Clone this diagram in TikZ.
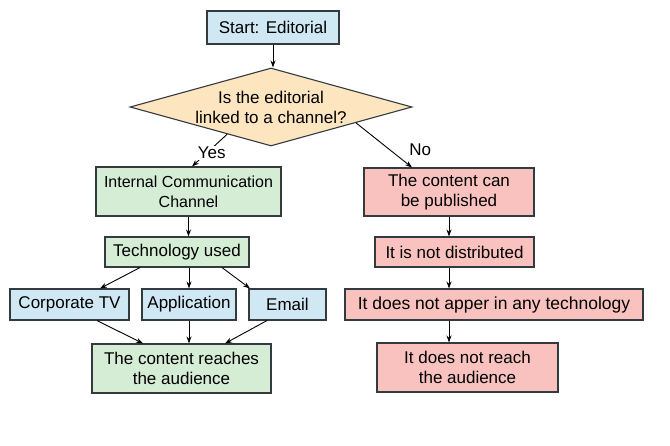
\documentclass[tikz,border=0pt]{standalone}
\usepackage{fontspec}
\setmainfont{Liberation Sans}
\usetikzlibrary{shapes.geometric,arrows.meta,calc}

\definecolor{boxblue}{HTML}{D0E7F4}
\definecolor{boxgreen}{HTML}{D5EDD5}
\definecolor{boxpink}{HTML}{F9C2BE}
\definecolor{boxsand}{HTML}{FDE5C0}
\definecolor{boxline}{HTML}{333B40}

\tikzset{
    box/.style={draw=boxline, line width=1.1pt, align=center, inner sep=0pt,
        font=\fontsize{17}{20}\selectfont},
    bluebox/.style={box, fill=boxblue},
    greenbox/.style={box, fill=boxgreen},
    pinkbox/.style={box, fill=boxpink},
    decision/.style={box, shape=diamond, fill=boxsand},
    arr/.style={-{Stealth[length=7pt,width=5pt]}, line width=0.9pt, draw=black}
}

\begin{document}
\begin{tikzpicture}[x=1pt,y=-1pt]

    \useasboundingbox[fill=white] (0,0) rectangle (670,446);

    % Inizio e domanda
    \node[bluebox, minimum width=132pt, minimum height=33pt] (start) at (273,27.5) {Start: Editorial};
    \node[decision, minimum width=282pt, minimum height=78pt,
        label={[align=center, font=\fontsize{17}{20}\selectfont]center:Is the editorial\\linked to a channel?}]
        (dia) at (271,107) {};

    % Ramo Yes
    \node[greenbox, minimum width=185pt, minimum height=49pt, font=\fontsize{16}{20}\selectfont] (icc) at (188.5,191.5) {Internal Communication\\Channel};
    \node[greenbox, minimum width=144pt, minimum height=30pt] (tech) at (177,252) {Technology used};
    \node[bluebox, minimum width=119pt, minimum height=31pt] (tv) at (69.5,304.5) {Corporate TV};
    \node[bluebox, minimum width=94pt, minimum height=31pt] (app) at (189,304.5) {Application};
    \node[bluebox, minimum width=77pt, minimum height=31pt] (email) at (287.5,304.5) {Email};
    \node[greenbox, minimum width=179pt, minimum height=49pt] (reach) at (181.5,368.5) {The content reaches\\the audience};

    % Ramo No
    \node[pinkbox, minimum width=170pt, minimum height=48pt] (pub) at (449,192) {The content can\\be published};
    \node[pinkbox, minimum width=159pt, minimum height=30pt] (notdist) at (454.5,252) {It is not distributed};
    \node[pinkbox, minimum width=298pt, minimum height=31pt, font=\fontsize{17.5}{20}\selectfont] (noapp) at (494,304.5) {It does not apper in any technology};
    \node[pinkbox, minimum width=181pt, minimum height=49pt] (noreach) at (467.5,367.5) {It does not reach\\the audience};

    % Frecce
    \draw[arr] (start.south) -- (start.south |- dia.north);
    \draw[arr] ($(dia.west)!0.69!(dia.south)$) -- ([xshift=3.5pt]icc.north)
        node[pos=0.58, fill=white, inner sep=1pt, xshift=5pt, font=\fontsize{17}{20}\selectfont] {Yes};
    \draw[arr] ($(dia.east)!0.4!(dia.south)$) -- ([xshift=-37pt]pub.north)
        node[pos=0.6, right, xshift=16pt, font=\fontsize{17}{20}\selectfont] {No};

    \draw[arr] (icc.south) -- (icc.south |- tech.north);
    \draw[arr] ([xshift=-37pt]tech.south) -- ([xshift=30.5pt]tv.north);
    \draw[arr] (app.north |- tech.south) -- (app.north);
    \draw[arr] ([xshift=45pt]tech.south) -- ([xshift=-37.5pt]email.north);
    \draw[arr] ([xshift=27.5pt]tv.south) -- ([xshift=-38.5pt]reach.north);
    \draw[arr] (app.south) -- (app.south |- reach.north);
    \draw[arr] ([xshift=-20.5pt]email.south) -- ([xshift=43.5pt]reach.north);

    \draw[arr] (pub.south) -- (pub.south |- notdist.north);
    \draw[arr] (notdist.south -| pub) -- (noapp.north -| pub);
    \draw[arr] (noapp.south -| pub) -- (noreach.north -| pub);

\end{tikzpicture}
\end{document}
